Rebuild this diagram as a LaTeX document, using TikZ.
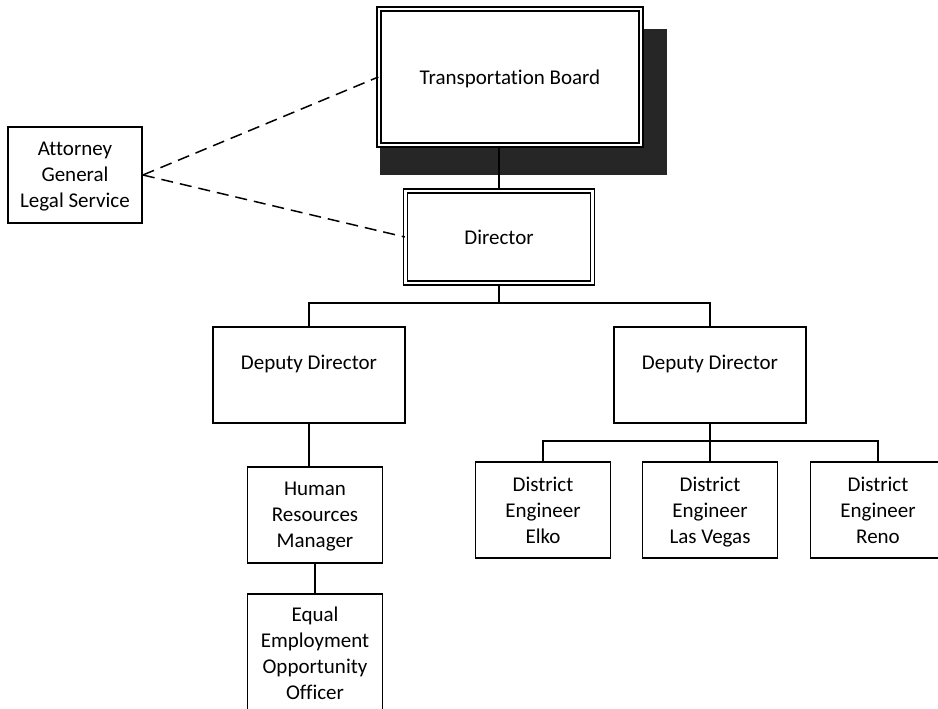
\documentclass[tikz,border=0pt]{standalone}
\usepackage{fontspec}
\setmainfont{Carlito}[Ligatures=NoCommon]

\begin{document}
\begin{tikzpicture}[x=1pt, y=-1pt,
    font=\fontsize{21}{26}\selectfont,
    unit/.style={draw, line width=1.8pt, fill=white, align=center, inner sep=0pt,
                 minimum width=135pt, minimum height=96pt, text depth=0pt},
    wide/.style={unit, minimum width=192pt},
    head/.style={unit, double, line width=1.3pt, double distance=2.5pt},
    wire/.style={line width=1.8pt},
    advice/.style={line width=1.5pt, dash pattern=on 12pt off 7pt}]
    \useasboundingbox (0,0) rectangle (938,709);

    % board with its dark shadow
    \fill[black!85] (380,29) rectangle (667,175);
    \node[head, minimum width=262pt, minimum height=136pt] (board) at (510,77) {Transportation Board};
    \node[head, minimum width=187pt, minimum height=92pt] (dir) at (499,237) {Director};
    \node[unit, minimum width=134pt] (ag) at (75,175) {Attorney\\General\\Legal Service};

    \node[wide] (dep1) at (309,375) {Deputy Director\\\mbox{}};
    \node[wide] (dep2) at (710,375) {Deputy Director\\\mbox{}};

    \node[unit] (hr) at (315,515) {Human\\Resources\\Manager};
    \node[unit, minimum height=118pt] (eeo) at (315,653) {Equal\\Employment\\Opportunity\\Officer};

    \node[unit] (elko) at (543,510) {District\\Engineer\\Elko};
    \node[unit] (lv) at (710,510) {District\\Engineer\\Las Vegas};
    \node[unit] (reno) at (878,510) {District\\Engineer\\Reno};

    % reporting lines
    \coordinate (busTop) at (0,303);
    \coordinate (busDist) at (0,441);
    \draw[wire] (board.south -| dir.north) -- (dir.north);
    \draw[wire] (dir.south) -- (dir.south |- busTop);
    \draw[wire] (dep1.north) |- (dep2.north |- busTop) -- (dep2.north);
    \draw[wire] (dep1.south) -- (dep1.south |- hr.north);
    \draw[wire] (hr.south) -- (eeo.north);
    \draw[wire] (dep2.south) -- (lv.north);
    \draw[wire] (elko.north) |- (reno.north |- busDist) -- (reno.north);

    % legal advice
    \draw[advice] (ag.east) -- (board.west);
    \draw[advice] (ag.east) -- (dir.west);
\end{tikzpicture}
\end{document}
